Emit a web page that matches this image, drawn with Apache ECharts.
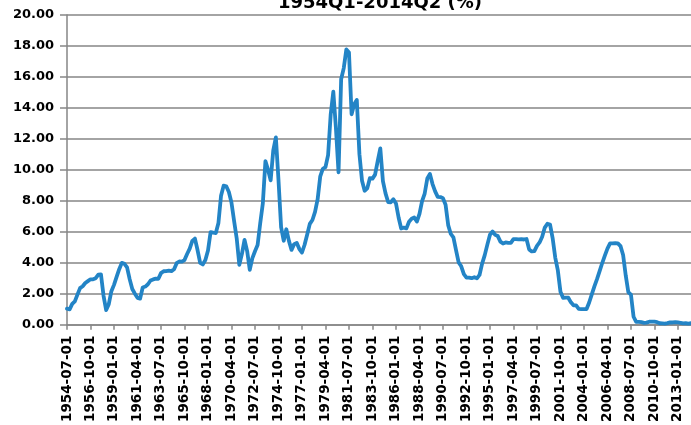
<!DOCTYPE html>
<html>
<head>
<meta charset="utf-8">
<title>Effective Federal Funds Rate 1954Q1-2014Q2 (%)</title>
<script src="https://cdn.jsdelivr.net/npm/echarts@6/dist/echarts.min.js"></script>
<style>
  html, body { margin: 0; padding: 0; background: #ffffff; }
  #chart { width: 691px; height: 425px; }
</style>
</head>
<body>
<div id="chart"></div>
<script>
// Quarterly averages of the effective federal funds rate (%), 1954Q3 onward
const rate1950s = [1.03, 0.99, 1.34, 1.50, 1.94, 2.36, 2.48, 2.69, 2.81, 2.93, 2.93, 3.00, 3.23, 3.25,
  1.86, 0.94, 1.32, 2.16, 2.57, 3.08, 3.58, 3.99];
const rate1960s = [3.93, 3.70, 2.94, 2.30, 2.00, 1.73, 1.68, 2.40, 2.46, 2.61, 2.85, 2.92,
  2.97, 2.96, 3.33, 3.45, 3.46, 3.49, 3.46, 3.58, 3.97, 4.08, 4.07, 4.17,
  4.56, 4.91, 5.41, 5.56, 4.82, 3.99, 3.89, 4.17, 4.79, 5.98, 5.94, 5.92,
  6.57, 8.33, 8.98, 8.94];
const rate1970s = [8.57, 7.88, 6.70, 5.57, 3.86, 4.57, 5.48, 4.75, 3.54, 4.30, 4.74, 5.14,
  6.54, 7.82, 10.56, 10.00, 9.32, 11.25, 12.09, 9.35, 6.30, 5.42, 6.16, 5.41,
  4.83, 5.20, 5.28, 4.88, 4.66, 5.16, 5.82, 6.51, 6.76, 7.28, 8.10, 9.58,
  10.07, 10.18, 10.95, 13.58];
const rate1980s = [15.05, 12.69, 9.84, 15.85, 16.57, 17.78, 17.58, 13.59, 14.23, 14.51, 11.01, 9.29,
  8.65, 8.80, 9.46, 9.43, 9.69, 10.56, 11.39, 9.27, 8.48, 7.92, 7.90, 8.10,
  7.83, 6.92, 6.21, 6.27, 6.22, 6.65, 6.84, 6.92, 6.66, 7.16, 7.98, 8.47,
  9.44, 9.73, 9.08, 8.61];
const rate1990s = [8.25, 8.24, 8.16, 7.74, 6.43, 5.86, 5.64, 4.82, 4.02, 3.77, 3.26, 3.04,
  3.04, 3.00, 3.06, 2.99, 3.21, 3.94, 4.49, 5.17, 5.81, 6.02, 5.80, 5.72,
  5.36, 5.24, 5.31, 5.28, 5.28, 5.52, 5.53, 5.51, 5.52, 5.50, 5.53, 4.86,
  4.73, 4.75, 5.09, 5.31];
const rate2000s = [5.68, 6.27, 6.52, 6.47, 5.59, 4.33, 3.50, 2.13, 1.73, 1.75, 1.74, 1.44,
  1.25, 1.25, 1.02, 1.00, 1.00, 1.01, 1.43, 1.95, 2.47, 2.94, 3.46, 3.98,
  4.46, 4.91, 5.25, 5.25, 5.26, 5.25, 5.07, 4.50, 3.18, 2.09, 1.94, 0.51,
  0.18, 0.18, 0.16, 0.12];
const rate2010s = [0.13, 0.19, 0.19, 0.19, 0.16, 0.09, 0.08, 0.07, 0.10, 0.15, 0.14, 0.16,
  0.14, 0.12, 0.08, 0.09, 0.07, 0.09];

const rateValues = [].concat(rate1950s, rate1960s, rate1970s, rate1980s, rate1990s, rate2000s, rate2010s);

// Quarter start dates, first one 1954-07-01
const firstYear = 1954;
const firstQuarterMonth = 7;
const quarterDates = [];
for (let i = 0; i < rateValues.length; i++) {
  const m0 = firstQuarterMonth - 1 + i * 3;
  const y = firstYear + Math.floor(m0 / 12);
  const m = (m0 % 12) + 1;
  quarterDates.push(y + '-' + (m < 10 ? '0' + m : m) + '-01');
}

const titleText = '1954Q1-2014Q2 (%)';
const labelFont = 'DejaVu Sans';

const chart = echarts.init(document.getElementById('chart'), null, { renderer: 'canvas' });
chart.setOption({
  animation: false,
  backgroundColor: '#ffffff',
  graphic: [{
    type: 'text',
    x: 380,
    y: 12,
    style: {
      text: titleText,
      font: 'bold 18px "DejaVu Sans"',
      fill: '#000000',
      textAlign: 'center',
      textVerticalAlign: 'bottom'
    }
  }],
  grid: { left: 67, top: 15, bottom: 100, right: -12.5, containLabel: false },
  xAxis: {
    type: 'category',
    data: quarterDates,
    boundaryGap: false,
    axisLine: { show: true, lineStyle: { color: '#868686', width: 1.5 } },
    axisTick: { show: true, interval: 8, length: 5, lineStyle: { color: '#868686', width: 1.5 } },
    axisLabel: {
      interval: 8,
      rotate: 90,
      margin: 11,
      color: '#000000',
      fontFamily: labelFont,
      fontWeight: 'bold',
      fontSize: 13.5
    },
    splitLine: { show: false }
  },
  yAxis: {
    type: 'value',
    min: 0,
    max: 20,
    interval: 2,
    axisLine: { show: true, lineStyle: { color: '#868686', width: 1.5 } },
    axisTick: { show: true, length: 7, lineStyle: { color: '#868686', width: 1.5 } },
    axisLabel: {
      margin: 13,
      color: '#000000',
      fontFamily: labelFont,
      fontWeight: 'bold',
      fontSize: 13,
      formatter: v => v.toFixed(2)
    },
    splitLine: { show: true, lineStyle: { color: '#868686', width: 1.5 } }
  },
  series: [{
    type: 'line',
    data: rateValues,
    showSymbol: false,
    smooth: false,
    lineStyle: { color: '#2384c6', width: 3.8, join: 'round', cap: 'round' },
    itemStyle: { color: '#2384c6' }
  }]
});
</script>
</body>
</html>
